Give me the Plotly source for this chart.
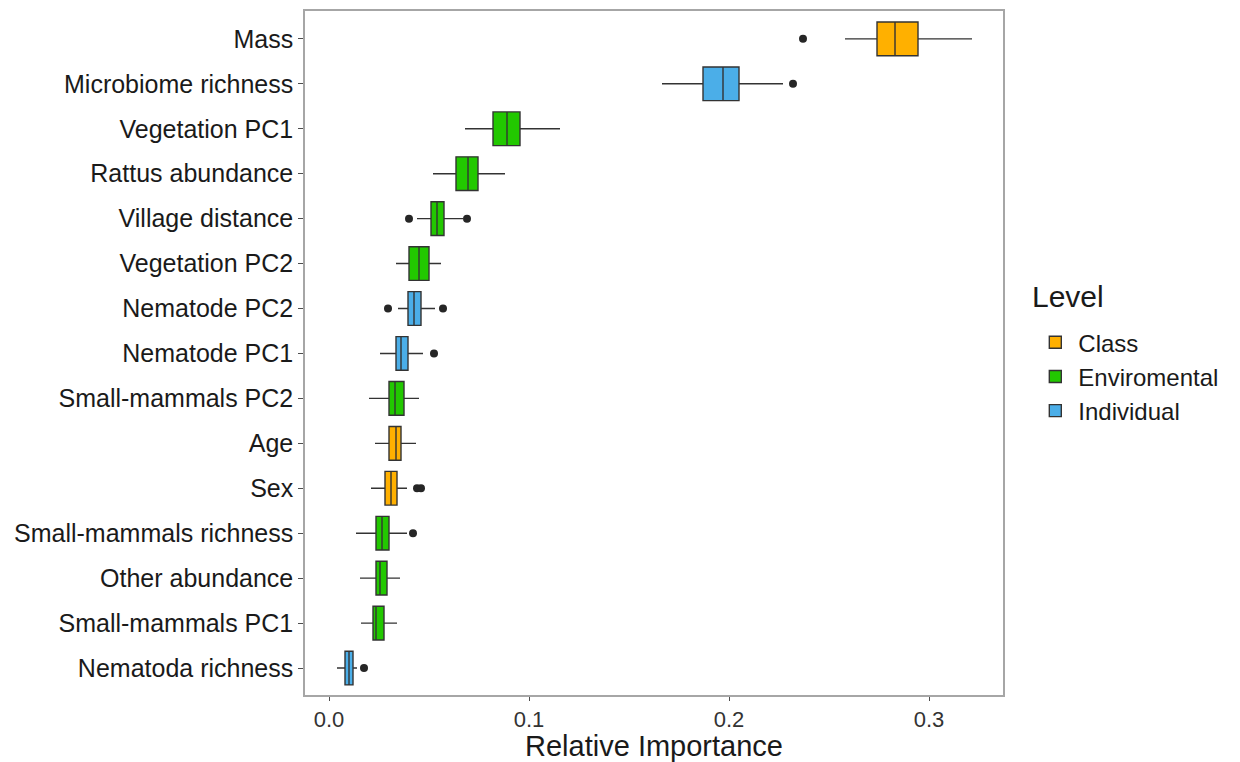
import plotly.graph_objects as go

# Data, listed top to bottom
variables = ["Mass", "Microbiome richness", "Vegetation PC1", "Rattus abundance",
             "Village distance", "Vegetation PC2", "Nematode PC2", "Nematode PC1",
             "Small-mammals PC2", "Age", "Sex", "Small-mammals richness",
             "Other abundance", "Small-mammals PC1", "Nematoda richness"]
levels = ["Class", "Individual", "Enviromental", "Enviromental",
          "Enviromental", "Enviromental", "Individual", "Individual",
          "Enviromental", "Class", "Class", "Enviromental",
          "Enviromental", "Enviromental", "Individual"]
lower_whisker = [0.258, 0.1665, 0.068, 0.052, 0.044, 0.0335, 0.0345, 0.0255,
                 0.020, 0.023, 0.021, 0.0135, 0.0155, 0.016, 0.004]
q1_vals = [0.274, 0.187, 0.082, 0.0635, 0.051, 0.040, 0.0395, 0.0335,
           0.030, 0.030, 0.028, 0.0235, 0.0235, 0.022, 0.008]
median_vals = [0.283, 0.197, 0.089, 0.0695, 0.054, 0.045, 0.0425, 0.036,
               0.033, 0.0335, 0.031, 0.0265, 0.0255, 0.0235, 0.010]
q3_vals = [0.2945, 0.205, 0.0955, 0.0745, 0.0575, 0.050, 0.046, 0.0395,
           0.0375, 0.036, 0.034, 0.030, 0.029, 0.0275, 0.012]
upper_whisker = [0.3215, 0.227, 0.1155, 0.088, 0.067, 0.056, 0.053, 0.047,
                 0.045, 0.0435, 0.039, 0.039, 0.0355, 0.034, 0.014]
outlier_vars = ["Mass", "Microbiome richness", "Village distance", "Village distance",
                "Nematode PC2", "Nematode PC2", "Nematode PC1", "Sex", "Sex",
                "Small-mammals richness", "Nematoda richness"]
outlier_vals = [0.237, 0.232, 0.040, 0.069, 0.0295, 0.057, 0.0525, 0.044, 0.046,
                0.042, 0.0175]

level_order = ["Class", "Enviromental", "Individual"]
level_colors = {"Class": "#FFB000", "Enviromental": "#22C800", "Individual": "#4BAEE8"}

fig = go.Figure()
for lv in level_order:
    idx = [i for i, l in enumerate(levels) if l == lv]
    fig.add_trace(go.Box(
        name=lv,
        orientation="h",
        y=[variables[i] for i in idx],
        q1=[q1_vals[i] for i in idx],
        median=[median_vals[i] for i in idx],
        q3=[q3_vals[i] for i in idx],
        lowerfence=[lower_whisker[i] for i in idx],
        upperfence=[upper_whisker[i] for i in idx],
        width=0.75,
        fillcolor=level_colors[lv],
        line=dict(color="#333333", width=1.4),
        whiskerwidth=0,
        boxpoints=False,
        hoverinfo="x+y",
    ))

fig.add_trace(go.Scatter(
    x=outlier_vals, y=outlier_vars, mode="markers",
    marker=dict(color="#262626", size=8),
    showlegend=False, hoverinfo="x+y",
))

cat_bottom_up = variables[::-1]
font_family = "Liberation Sans, Arial, Helvetica, sans-serif"

# plot area: x 297..995, y 1..687 in figure pixels (page offset 8px)
fig.update_layout(
    width=1232, height=754,
    margin=dict(l=297, r=237, t=1, b=67),
    paper_bgcolor="white", plot_bgcolor="white",
    font=dict(family=font_family, color="#1a1a1a"),
    boxmode="overlay",
    legend=dict(
        font=dict(size=24, color="#1a1a1a"),
        x=1.042, y=0.548, xanchor="left", yanchor="top",
        tracegroupgap=0, itemwidth=36,
        bgcolor="rgba(0,0,0,0)",
    ),
    annotations=[dict(
        text="Level", xref="paper", yref="paper",
        x=1.039, y=0.555, xanchor="left", yanchor="bottom",
        showarrow=False, font=dict(size=30, color="#1a1a1a"),
    )],
    xaxis=dict(
        range=[-0.012, 0.337],
        tickvals=[0.0, 0.1, 0.2, 0.3],
        ticktext=["0.0", "0.1", "0.2", "0.3"],
        ticks="outside", ticklen=4, tickcolor="#4d4d4d",
        tickfont=dict(size=22, color="#333333"),
        showgrid=False, zeroline=False,
        showline=True, mirror=True, linecolor="#a6a6a6", linewidth=1.5,
        title=dict(text="Relative Importance", font=dict(size=29, color="#1a1a1a"), standoff=2),
    ),
    yaxis=dict(
        type="category",
        categoryorder="array", categoryarray=cat_bottom_up,
        range=[-0.6, 14.62],
        ticks="outside", ticklen=5, tickcolor="#4d4d4d",
        tickfont=dict(size=25, color="#1a1a1a"),
        showgrid=False, zeroline=False,
        showline=True, mirror=True, linecolor="#a6a6a6", linewidth=1.5,
    ),
)

fig.write_html("out.html")
